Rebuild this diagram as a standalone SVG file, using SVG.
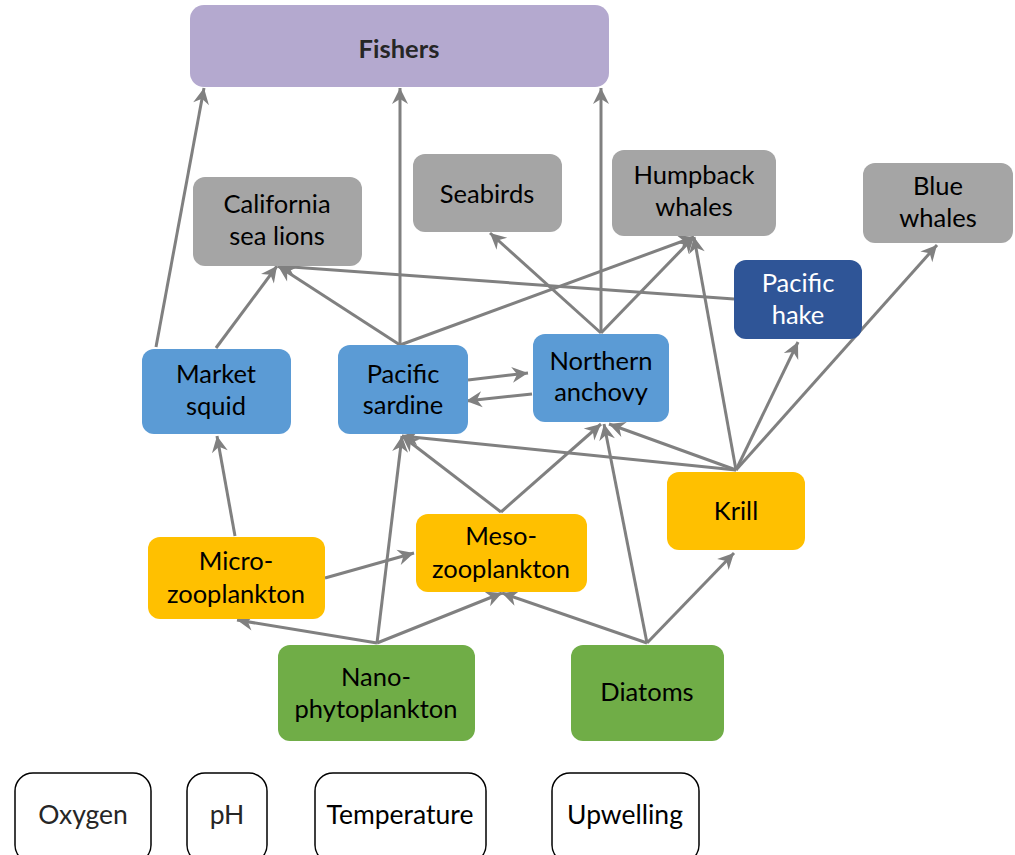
<svg xmlns="http://www.w3.org/2000/svg" width="1015" height="855" viewBox="0 0 1015 855">
  <style>
    .lbl { font-family: Lato, "Open Sans", sans-serif; font-size: 25.5px; fill: #000; text-anchor: middle; }
    .white { fill: #fff; }
    .bold { font-weight: bold; fill: #262626; }
    .light { fill: #262626; }
    .big { font-size: 26.5px; }
    .gray { fill: #a5a5a5; }
    .blue { fill: #5b9bd5; }
    .navy { fill: #2f5597; }
    .yellow { fill: #ffc000; }
    .green { fill: #70ad47; }
    .purple { fill: #b4a9cf; }
    .driver { fill: #fff; stroke: #000; stroke-width: 1.5; }
    .edge { fill: none; stroke: #808080; stroke-width: 3; marker-end: url(#arrow); }
  </style>
  <defs>
    <marker id="arrow" markerUnits="userSpaceOnUse" viewBox="-18 -10 20 20" markerWidth="20" markerHeight="20" refX="0" refY="0" orient="auto">
      <path d="M0,0 L-16,-8 L-11,0 L-16,8 Z" fill="#808080"/>
    </marker>
  </defs>

  <!-- connectors -->
  <g id="connectors">
    <path class="edge" d="M156,347 L204,88"/>
    <path class="edge" d="M400,345 L400,88"/>
    <path class="edge" d="M601,333 L601,88"/>
    <path class="edge" d="M216,348 L277,266"/>
    <path class="edge" d="M400,345 L278,266"/>
    <path class="edge" d="M734,299 L278,266"/>
    <path class="edge" d="M400,345 L694,237"/>
    <path class="edge" d="M601,333 L490,233"/>
    <path class="edge" d="M601,333 L694,237"/>
    <path class="edge" d="M736,470 L694,237"/>
    <path class="edge" d="M736,470 L798,342"/>
    <path class="edge" d="M736,470 L937,245"/>
    <path class="edge" d="M736,470 L609,424"/>
    <path class="edge" d="M736,470 L402,436"/>
    <path class="edge" d="M501,512 L402,436"/>
    <path class="edge" d="M501,512 L601,424"/>
    <path class="edge" d="M377,643 L402,436"/>
    <path class="edge" d="M377,643 L237,620"/>
    <path class="edge" d="M377,643 L502,593"/>
    <path class="edge" d="M235,536 L217,436"/>
    <path class="edge" d="M325,578 L414,553"/>
    <path class="edge" d="M647,643 L502,593"/>
    <path class="edge" d="M647,643 L734,553"/>
    <path class="edge" d="M647,643 L604,424"/>
    <path class="edge" d="M468,380 L528,373"/>
    <path class="edge" d="M532,394 L466,401"/>
  </g>

  <!-- top consumers -->
  <g id="fishers">
    <rect class="purple" x="190" y="5" width="419" height="82" rx="14"/>
    <text class="lbl bold" x="399" y="58">Fishers</text>
  </g>
  <g id="sea-lions">
    <rect class="gray" x="193" y="177" width="169" height="89" rx="12"/>
    <text class="lbl" x="277" y="213">California</text>
    <text class="lbl" x="277" y="245">sea lions</text>
  </g>
  <g id="seabirds">
    <rect class="gray" x="413" y="154" width="149" height="78" rx="12"/>
    <text class="lbl" x="487" y="203">Seabirds</text>
  </g>
  <g id="humpback-whales">
    <rect class="gray" x="612" y="150" width="164" height="86" rx="12"/>
    <text class="lbl" x="694" y="184">Humpback</text>
    <text class="lbl" x="694" y="216">whales</text>
  </g>
  <g id="blue-whales">
    <rect class="gray" x="863" y="163" width="150" height="80" rx="12"/>
    <text class="lbl" x="938" y="195">Blue</text>
    <text class="lbl" x="938" y="227">whales</text>
  </g>

  <!-- fish and squid -->
  <g id="pacific-hake">
    <rect class="navy" x="734" y="260" width="128" height="79" rx="12"/>
    <text class="lbl white" x="798" y="292">Pacific</text>
    <text class="lbl white" x="798" y="324">hake</text>
  </g>
  <g id="market-squid">
    <rect class="blue" x="142" y="349" width="149" height="85" rx="12"/>
    <text class="lbl" x="216" y="383">Market</text>
    <text class="lbl" x="216" y="415">squid</text>
  </g>
  <g id="pacific-sardine">
    <rect class="blue" x="338" y="345" width="130" height="89" rx="12"/>
    <text class="lbl" x="403" y="383">Pacific</text>
    <text class="lbl" x="403" y="414">sardine</text>
  </g>
  <g id="northern-anchovy">
    <rect class="blue" x="533" y="334" width="136" height="88" rx="12"/>
    <text class="lbl" x="601" y="370">Northern</text>
    <text class="lbl" x="601" y="401">anchovy</text>
  </g>

  <!-- zooplankton -->
  <g id="krill">
    <rect class="yellow" x="667" y="472" width="138" height="78" rx="12"/>
    <text class="lbl" x="736" y="520">Krill</text>
  </g>
  <g id="micro-zooplankton">
    <rect class="yellow" x="148" y="537" width="177" height="82" rx="12"/>
    <text class="lbl" x="236" y="570">Micro-</text>
    <text class="lbl" x="236" y="603">zooplankton</text>
  </g>
  <g id="meso-zooplankton">
    <rect class="yellow" x="416" y="514" width="171" height="78" rx="12"/>
    <text class="lbl" x="501" y="545">Meso-</text>
    <text class="lbl" x="501" y="578">zooplankton</text>
  </g>

  <!-- phytoplankton -->
  <g id="nano-phytoplankton">
    <rect class="green" x="278" y="645" width="197" height="96" rx="12"/>
    <text class="lbl" x="376" y="686">Nano-</text>
    <text class="lbl" x="376" y="718">phytoplankton</text>
  </g>
  <g id="diatoms">
    <rect class="green" x="571" y="645" width="153" height="96" rx="12"/>
    <text class="lbl" x="647" y="701">Diatoms</text>
  </g>

  <!-- environmental drivers -->
  <g id="oxygen">
    <rect class="driver" x="15" y="773" width="136" height="90" rx="18"/>
    <text class="lbl light big" x="83" y="824">Oxygen</text>
  </g>
  <g id="ph">
    <rect class="driver" x="187" y="773" width="80" height="90" rx="18"/>
    <text class="lbl light big" x="227" y="824">pH</text>
  </g>
  <g id="temperature">
    <rect class="driver" x="315" y="773" width="171" height="90" rx="18"/>
    <text class="lbl big" x="400" y="824">Temperature</text>
  </g>
  <g id="upwelling">
    <rect class="driver" x="552" y="773" width="147" height="90" rx="18"/>
    <text class="lbl big" x="625" y="824">Upwelling</text>
  </g>
</svg>
